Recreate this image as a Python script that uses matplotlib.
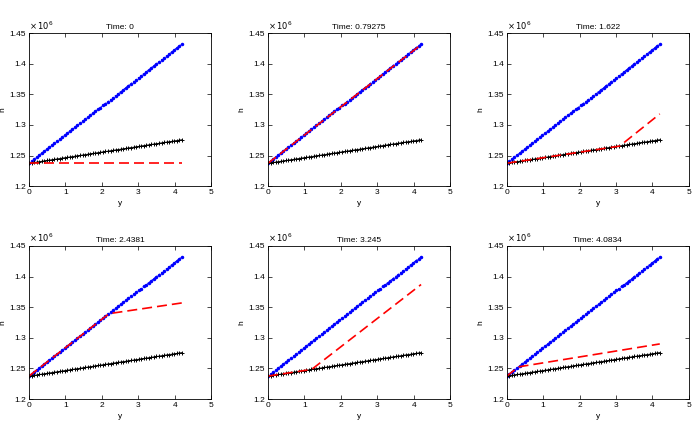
import numpy as np
import matplotlib
matplotlib.use("Agg")
import matplotlib.pyplot as plt
from matplotlib.ticker import FormatStrFormatter

plt.rcParams['font.family'] = ['Liberation Sans', 'DejaVu Sans']
plt.rcParams['font.size'] = 6

# grid positions (y) and the two reference profiles (h, in units of 1e6)
y_grid = [0.00, 0.07, 0.14, 0.21, 0.28, 0.35, 0.42, 0.49, 0.56, 0.63,
          0.70, 0.77, 0.84, 0.91, 0.98, 1.05, 1.12, 1.19, 1.26, 1.33,
          1.40, 1.47, 1.54, 1.61, 1.68, 1.75, 1.82, 1.89, 1.96, 2.03,
          2.10, 2.17, 2.24, 2.31, 2.38, 2.45, 2.52, 2.59, 2.66, 2.73,
          2.80, 2.87, 2.94, 3.01, 3.08, 3.15, 3.22, 3.29, 3.36, 3.43,
          3.50, 3.57, 3.64, 3.71, 3.78, 3.85, 3.92, 3.99, 4.06, 4.13,
          4.20]
h_blue = [1.2375, 1.2408, 1.2440, 1.2473, 1.2505, 1.2538, 1.2570, 1.2603, 1.2635, 1.2668,
          1.2700, 1.2733, 1.2765, 1.2798, 1.2830, 1.2863, 1.2895, 1.2928, 1.2960, 1.2993,
          1.3025, 1.3058, 1.3090, 1.3123, 1.3155, 1.3188, 1.3220, 1.3253, 1.3285, 1.3318,
          1.3350, 1.3383, 1.3415, 1.3448, 1.3480, 1.3513, 1.3545, 1.3578, 1.3610, 1.3643,
          1.3675, 1.3708, 1.3740, 1.3773, 1.3805, 1.3838, 1.3870, 1.3903, 1.3935, 1.3968,
          1.4000, 1.4033, 1.4065, 1.4098, 1.4130, 1.4163, 1.4195, 1.4228, 1.4260, 1.4293,
          1.4325]
h_black = [1.2375, 1.2381, 1.2388, 1.2394, 1.2401, 1.2407, 1.2413, 1.2420, 1.2426, 1.2433,
           1.2439, 1.2445, 1.2452, 1.2458, 1.2465, 1.2471, 1.2477, 1.2484, 1.2490, 1.2497,
           1.2503, 1.2509, 1.2516, 1.2522, 1.2529, 1.2535, 1.2541, 1.2548, 1.2554, 1.2561,
           1.2567, 1.2573, 1.2580, 1.2586, 1.2593, 1.2599, 1.2605, 1.2612, 1.2618, 1.2625,
           1.2631, 1.2637, 1.2644, 1.2650, 1.2657, 1.2663, 1.2669, 1.2676, 1.2682, 1.2689,
           1.2695, 1.2701, 1.2708, 1.2714, 1.2721, 1.2727, 1.2733, 1.2740, 1.2746, 1.2753,
           1.2759]

# red dashed profile at each time, as breakpoints
times = ['0', '0.79275', '1.622', '2.4381', '3.245', '4.0834']
red_y = [[0.0, 4.2],
         [0.0, 4.2],
         [0.0, 3.1, 4.2],
         [0.0, 2.2, 4.2],
         [0.0, 1.2, 4.2],
         [0.0, 0.32, 4.2]]
red_h = [[1.2375, 1.2375],
         [1.2375, 1.431],
         [1.2375, 1.2655, 1.318],
         [1.2375, 1.3395, 1.357],
         [1.2375, 1.2485, 1.387],
         [1.2375, 1.2525, 1.290]]

fig = plt.figure(figsize=(6.98, 4.3), dpi=100)
lefts = [0.0415, 0.384, 0.726]
bottoms = [0.567, 0.072]
w, h = 0.261, 0.356

for i in range(6):
    ax = fig.add_axes([lefts[i % 3], bottoms[i // 3], w, h])
    ax.plot(y_grid, h_blue, ':', color='blue', marker='.', markersize=3, linewidth=0.8)
    ax.plot(y_grid, h_black, '-', color='black', marker='+', markersize=2.8, linewidth=0.6,
            markeredgewidth=0.7)
    ax.plot(red_y[i], red_h[i], '--', color='red', linewidth=1.2, dashes=(6, 3))
    ax.set_xlim(0, 5)
    ax.set_ylim(1.2, 1.45)
    ax.set_xticks([0, 1, 2, 3, 4, 5])
    ax.set_yticks([1.2, 1.25, 1.3, 1.35, 1.4, 1.45])
    ax.yaxis.set_major_formatter(FormatStrFormatter('%g'))
    ax.tick_params(direction='in', top=True, right=True, length=3, width=0.5, pad=2,
                   labelsize=6)
    for s in ax.spines.values():
        s.set_linewidth(0.6)
    ax.set_title('Time: ' + times[i], fontsize=6, pad=3)
    ax.set_xlabel('y', fontsize=6, labelpad=3)
    ax.set_ylabel('h', fontsize=6)
    ax.yaxis.set_label_coords(-0.125, 0.5)
    ax.text(0.0, 1.01, r'$\times\,10^{6}$', transform=ax.transAxes, fontsize=6,
            ha='left', va='bottom')

fig.savefig('out.png', dpi=100)
